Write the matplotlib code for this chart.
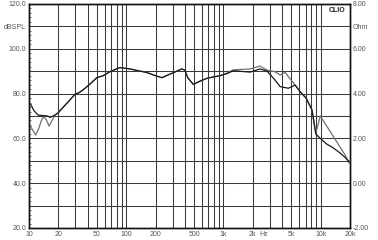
import matplotlib
matplotlib.use("Agg")
import matplotlib.pyplot as plt
from matplotlib.ticker import FixedLocator, NullFormatter

plt.rcParams['font.family'] = ['Liberation Sans', 'DejaVu Sans']

# Curve A (dark, early HF roll-off)
freq_a = [10, 10.5, 11.2, 12.4, 14, 15.5, 16.5, 18.5, 20, 22, 25.4, 29.7, 33, 37.8, 43, 49.8,
          58, 68, 86, 97, 110, 123, 160, 200, 232, 300, 372, 400, 430, 490, 570, 673, 800,
          923, 1100, 1260, 1880, 2370, 2800, 3280, 3830, 4650, 5450, 6140, 7100, 8130, 8900,
          9900, 11500, 13400, 15800, 17800, 19600]
spl_a = [75.7, 75.0, 72.5, 70.4, 70.2, 70.0, 69.4, 70.4, 71.5, 73.5, 76.4, 79.7, 80.5, 82.4,
         84.5, 87.1, 88.0, 89.8, 91.6, 91.3, 91.0, 90.5, 89.5, 88.0, 87.1, 89.2, 91.0, 90.5,
         87.0, 84.1, 85.5, 86.8, 87.5, 88.0, 89.0, 90.2, 89.6, 91.0, 90.1, 86.8, 83.1, 82.4,
         83.8, 80.8, 77.9, 72.7, 62.0, 60.0, 57.5, 55.8, 53.5, 51.5, 49.6]

# Curve B (grey, later HF roll-off)
freq_b = [10, 11, 11.7, 12.5, 13.3, 14, 15, 16.1, 17, 18.5, 20, 22, 25.4, 29.7, 33, 37.8, 43,
          49.8, 58, 68, 86, 97, 110, 123, 160, 200, 232, 300, 372, 400, 430, 490, 570, 673,
          800, 923, 1100, 1260, 1880, 2370, 2800, 3360, 3830, 4300, 5450, 6140, 7100, 8130,
          8900, 9900, 17800, 19600]
spl_b = [66.7, 63.5, 61.5, 64.0, 67.5, 69.7, 68.5, 65.5, 67.5, 70.4, 71.5, 73.5, 76.4, 79.7,
         80.5, 82.4, 84.5, 87.1, 88.0, 89.8, 91.6, 91.3, 91.0, 90.5, 89.5, 88.0, 87.1, 89.2,
         91.0, 90.5, 87.0, 84.1, 85.5, 86.8, 87.5, 88.0, 89.3, 90.6, 91.0, 92.3, 90.5, 89.8,
         88.3, 89.5, 83.8, 81.0, 77.9, 72.7, 62.3, 70.0, 52.6, 49.0]

x_ticks = [10, 20, 50, 100, 200, 500, 1000, 2000, 5000, 10000, 20000]
x_labels = ["10", "20", "50", "100", "200", "500", "1k", "2k", "5k", "10k", "20k"]
y_ticks = [20, 40, 60, 80, 100, 110, 120]
y_labels = ["20.0", "40.0", "60.0", "80.0", "100.0", "dBSPL", "120.0"]
r_labels = ["-2.00", "0.00", "2.00", "4.00", "6.00", "Ohm", "8.00"]

fig = plt.figure(figsize=(3.78, 2.40), dpi=100)
ax = fig.add_axes([29/378, 12/240, 321/378, 224/240])
ax.set_xscale('log')
ax.set_xlim(10, 20000)
ax.set_ylim(20, 120)

# grid
grid_x = []
for dec in [10, 100, 1000, 10000]:
    for m in range(1, 10):
        v = dec * m
        if 10 < v < 20000:
            grid_x.append(v)
for v in grid_x:
    ax.axvline(v, color='#3a3a3a', lw=0.75, zorder=1)
for v in range(30, 120, 10):
    ax.axhline(v, color='#3a3a3a', lw=0.75, zorder=1)

ax.plot(freq_b, spl_b, color='#707070', lw=0.9, zorder=3)
ax.plot(freq_a, spl_a, color='#1a1a1a', lw=0.9, zorder=4)

ax.xaxis.set_major_locator(FixedLocator(x_ticks))
ax.set_xticklabels(x_labels)
ax.xaxis.set_minor_formatter(NullFormatter())
ax.tick_params(axis='x', which='both', length=0, labelsize=5, colors='#555555', pad=2)
ax.set_yticks(y_ticks)
ax.set_yticklabels(y_labels)
ax.yaxis.set_minor_locator(FixedLocator(list(range(20, 121, 2))))
ax.tick_params(axis='y', which='major', length=0, labelsize=5, colors='#555555', pad=2)
ax.tick_params(axis='y', which='minor', direction='in', length=1.5, width=0.5, color='#333333',
               left=True, right=True)

ax2 = ax.twinx()
ax2.set_ylim(20, 120)
ax2.set_yticks(y_ticks)
ax2.set_yticklabels(r_labels)
ax2.tick_params(axis='y', length=0, labelsize=5, colors='#555555', pad=2)

for sp in list(ax.spines.values()) + list(ax2.spines.values()):
    sp.set_color('#111111')
    sp.set_linewidth(1.0)

ax.annotate("Hz", xy=(2330, 0), xycoords=ax.get_xaxis_transform(), xytext=(0, -2),
            textcoords='offset points', fontsize=5, color='#555555', ha='left', va='top',
            annotation_clip=False)
ax.text(0.985, 0.985, "CLIO", transform=ax.transAxes, fontsize=5, fontweight='bold',
        color='#222222', ha='right', va='top', zorder=5,
        bbox=dict(facecolor='white', edgecolor='none', pad=0.5))

fig.savefig("out.png", dpi=100)
